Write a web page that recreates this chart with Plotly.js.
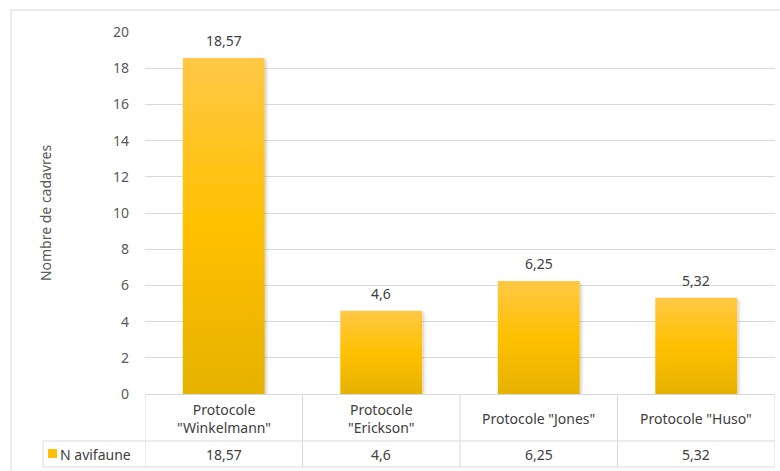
<!DOCTYPE html>
<html>
<head>
<meta charset="utf-8">
<script src="https://cdn.plot.ly/plotly-3.0.1.min.js"></script>
<style>
html,body{margin:0;padding:0;background:#fff;}
#chart{width:780px;height:471px;}
</style>
</head>
<body>
<div id="chart"></div>
<script>
const categories = ['Protocole<br>"Winkelmann"', 'Protocole<br>"Erickson"', 'Protocole "Jones"', 'Protocole "Huso"'];
const values = [18.57, 4.6, 6.25, 5.32];
const seriesName = 'N avifaune';
const yTitle = 'Nombre de cadavres';

const fmt = v => String(v).replace('.', ',');
const labels = values.map(fmt);
const xs = categories.map((c, i) => i);

const W = 780, H = 471;
const L = 145, R = 5, T = 32, B = 77;
const plotW = W - L - R, plotH = H - T - B;
const px = x => (x - L) / plotW;
const py = y => (H - B - y) / plotH;

const font = 'Noto Sans, Open Sans, sans-serif';
const lineCol = '#D9D9D9';
const fs = 14;

const shapes = [];
const annotations = [];
// outer border
shapes.push({type:'rect', xref:'paper', yref:'paper', x0:px(11), x1:px(800), y0:py(10), y1:py(500), line:{color:lineCol, width:1}, fillcolor:'rgba(0,0,0,0)', layer:'below'});
// table verticals
for (let i = 0; i <= categories.length; i++) {
  shapes.push({type:'line', xref:'x', yref:'paper', x0:i-0.5, x1:i-0.5, y0:0, y1:py(467), line:{color:lineCol, width:1}});
}
// table horizontals
shapes.push({type:'line', xref:'paper', yref:'paper', x0:px(43), x1:1, y0:py(441), y1:py(441), line:{color:lineCol, width:1}});
shapes.push({type:'line', xref:'paper', yref:'paper', x0:px(43), x1:1, y0:py(467), y1:py(467), line:{color:lineCol, width:1}});
shapes.push({type:'line', xref:'paper', yref:'paper', x0:px(43), x1:px(43), y0:py(441), y1:py(467), line:{color:lineCol, width:1}});
// legend key
shapes.push({type:'rect', xref:'paper', yref:'paper', x0:px(48), x1:px(57), y0:py(458), y1:py(449), line:{width:0}, fillcolor:'#FFC000'});

categories.forEach((c, i) => {
  annotations.push({xref:'x', yref:'paper', x:i, y:py(418), text:c, showarrow:false, font:{family:font, size:fs, color:'#404040'}, xanchor:'center', yanchor:'middle', align:'center'});
  annotations.push({xref:'x', yref:'paper', x:i, y:py(454), text:labels[i], showarrow:false, font:{family:font, size:fs, color:'#404040'}, xanchor:'center', yanchor:'middle'});
  // data labels above bars
  annotations.push({xref:'x', yref:'y', x:i, y:values[i], text:labels[i], showarrow:false, font:{family:font, size:fs, color:'#404040'}, xanchor:'center', yanchor:'bottom', yshift:6});
});
annotations.push({xref:'paper', yref:'paper', x:px(58), y:py(454), text:seriesName, showarrow:false, font:{family:font, size:fs, color:'#404040'}, xanchor:'left', yanchor:'middle'});

const trace = {
  type:'bar', x:xs, y:values, name:seriesName,
  marker:{color:'#FFC000', line:{width:0}},
  width:0.52,
  hoverinfo:'skip'
};

const layout = {
  width:W, height:H,
  margin:{l:L, r:R, t:T, b:B},
  paper_bgcolor:'#fff', plot_bgcolor:'#fff',
  showlegend:false,
  xaxis:{range:[-0.5, categories.length-0.5], showticklabels:false, showgrid:false, zeroline:false, showline:true, linecolor:lineCol, linewidth:1, ticks:'', fixedrange:true},
  yaxis:{range:[0,20], dtick:2, showgrid:true, gridcolor:lineCol, gridwidth:1, zeroline:false, showline:false, ticks:'',
    ticklabelstandoff:15,
    tickfont:{family:font, size:fs, color:'#595959'},
    title:{text:yTitle, font:{family:font, size:fs, color:'#595959'}, standoff:58}},
  shapes:shapes, annotations:annotations,
  bargap:0.48
};

Plotly.newPlot('chart', [trace], layout, {staticPlot:true, displayModeBar:false}).then(gd => {
  const svg = gd.querySelector('svg.main-svg');
  const ns = 'http://www.w3.org/2000/svg';
  let defs = svg.querySelector('defs');
  if (!defs) { defs = document.createElementNS(ns, 'defs'); svg.insertBefore(defs, svg.firstChild); }
  const grad = document.createElementNS(ns, 'linearGradient');
  grad.setAttribute('id', 'barGrad');
  grad.setAttribute('x1', '0'); grad.setAttribute('y1', '0');
  grad.setAttribute('x2', '0'); grad.setAttribute('y2', '1');
  [['0%','#FFC846'],['50%','#FFC000'],['100%','#E6B200']].forEach(([o,c]) => {
    const s = document.createElementNS(ns, 'stop');
    s.setAttribute('offset', o); s.setAttribute('stop-color', c);
    grad.appendChild(s);
  });
  defs.appendChild(grad);
  const filt = document.createElementNS(ns, 'filter');
  filt.setAttribute('id', 'barShadow');
  filt.setAttribute('x', '-10%'); filt.setAttribute('y', '-10%');
  filt.setAttribute('width', '125%'); filt.setAttribute('height', '125%');
  filt.innerHTML = '<feDropShadow dx="2" dy="2" stdDeviation="1.5" flood-color="#000" flood-opacity="0.18"/>';
  defs.appendChild(filt);
  gd.querySelectorAll('.bars .point path').forEach(p => {
    p.style.fill = 'url(#barGrad)';
    p.setAttribute('filter', 'url(#barShadow)');
  });
});
</script>
</body>
</html>
